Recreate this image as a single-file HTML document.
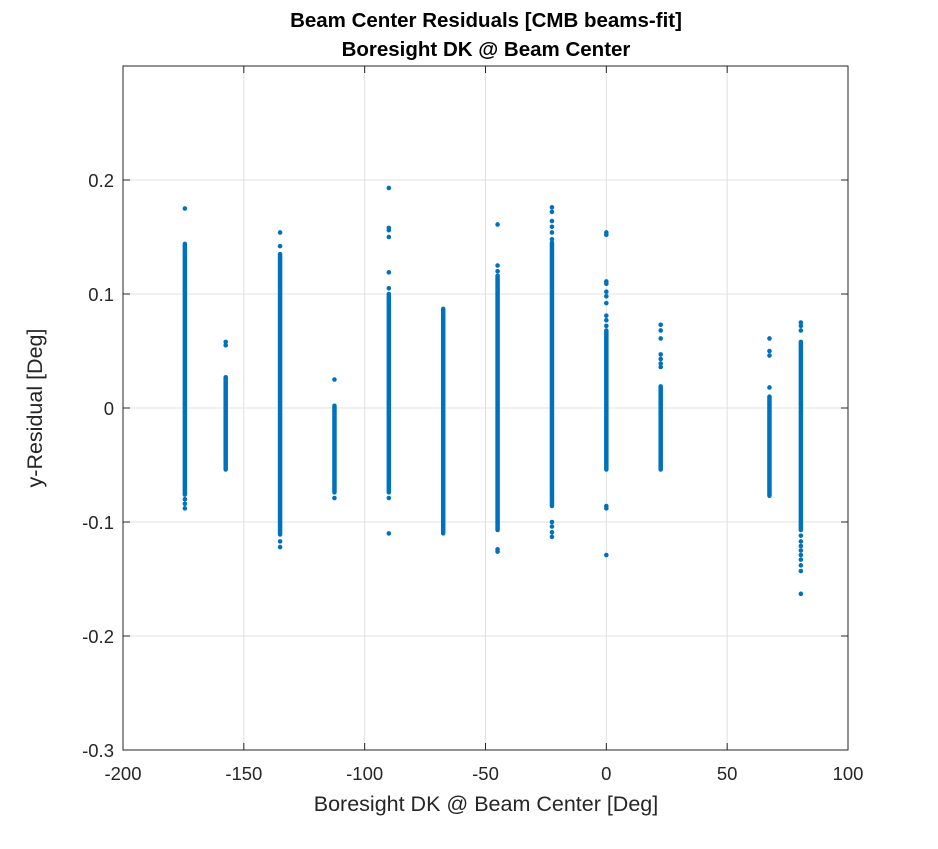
<!DOCTYPE html>
<html><head><meta charset="utf-8"><style>
body{margin:0;background:#fff;}
svg text{font-family:"Liberation Sans",Arial,sans-serif;fill:#262626;}
</style></head><body>
<svg id="chart" width="938" height="844" xmlns="http://www.w3.org/2000/svg">
<rect width="938" height="844" fill="#fff"/>
<g id="grid"></g>
<g id="marks"></g>
<rect x="123" y="66" width="725" height="684" fill="none" stroke="#262626" stroke-width="1"/>
<g id="ticks"></g>
<text x="486" y="27" text-anchor="middle" font-size="20.5" font-weight="bold" style="fill:#000">Beam Center Residuals [CMB beams-fit]</text>
<text x="486" y="56" text-anchor="middle" font-size="20.5" font-weight="bold" style="fill:#000">Boresight DK @ Beam Center</text>
<text x="486" y="811" text-anchor="middle" font-size="21.5">Boresight DK @ Beam Center [Deg]</text>
<text transform="translate(42,408) rotate(-90)" text-anchor="middle" font-size="21.5">y-Residual [Deg]</text>
</svg>
<script>
const dkValues=[-174.4,-157.5,-135,-112.5,-90,-67.5,-45,-22.5,0,22.5,67.5,80.5];
const denseLow=[-0.076,-0.054,-0.111,-0.074,-0.074,-0.110,-0.107,-0.086,-0.054,-0.054,-0.077,-0.107];
const denseHigh=[0.144,0.027,0.135,0.002,0.100,0.087,0.116,0.145,0.068,0.019,0.010,0.058];
const outliers=[
 [0.175,-0.080,-0.084,-0.088],
 [0.058,0.055],
 [0.154,0.142,-0.117,-0.122],
 [0.025,-0.079],
 [0.193,0.158,0.156,0.150,0.119,0.105,-0.079,-0.110],
 [],
 [0.161,0.125,0.120,-0.124,-0.126],
 [0.176,0.172,0.164,0.159,0.154,0.148,-0.100,-0.104,-0.109,-0.113],
 [0.154,0.152,0.111,0.109,0.102,0.098,0.092,0.081,0.077,0.072,-0.086,-0.088,-0.129],
 [0.073,0.068,0.061,0.047,0.043,0.039,0.036],
 [0.061,0.050,0.046,0.018],
 [0.075,0.072,0.068,-0.112,-0.117,-0.121,-0.125,-0.129,-0.133,-0.138,-0.143,-0.163]
];
const xTicks=[-200,-150,-100,-50,0,50,100];
const yTicks=[-0.3,-0.2,-0.1,0,0.1,0.2];
const X0=123,X1=848,Y0=750,Y1=66;
const xs=v=>X0+(v+200)/300*(X1-X0);
const ys=v=>Y0-(v+0.3)/0.6*(Y0-Y1);
const NS="http://www.w3.org/2000/svg";
const grid=document.getElementById('grid'),marks=document.getElementById('marks'),ticks=document.getElementById('ticks');
function mk(tag,attrs,parent){const e=document.createElementNS(NS,tag);for(const k in attrs)e.setAttribute(k,attrs[k]);parent.appendChild(e);return e;}
xTicks.forEach(t=>{
 const x=xs(t);
 const g=mk('line',{x1:x,x2:x,y1:Y1,y2:Y0,stroke:'#e0e0e0','stroke-width':1},grid);
 
 
 mk('line',{x1:x,x2:x,y1:Y0,y2:Y0-7,stroke:'#262626'},ticks);
 mk('line',{x1:x,x2:x,y1:Y1,y2:Y1+7,stroke:'#262626'},ticks);
 const tx=mk('text',{x:x,y:Y0+30,'text-anchor':'middle','font-size':18.5},ticks);
 tx.textContent=t;
 
 
});
yTicks.forEach(t=>{
 const y=ys(t);
 const g=mk('line',{x1:X0,x2:X1,y1:y,y2:y,stroke:'#e0e0e0','stroke-width':1},grid);
 
 
 mk('line',{x1:X0,x2:X0+7,y1:y,y2:y,stroke:'#262626'},ticks);
 mk('line',{x1:X1,x2:X1-7,y1:y,y2:y,stroke:'#262626'},ticks);
 const tx=mk('text',{x:X0-9,y:y+7,'text-anchor':'end','font-size':18.5},ticks);
 tx.textContent=(Math.round(t*10)/10).toString();
 
 
});
dkValues.forEach((dk,i)=>{
 const x=xs(dk);
 const l=mk('line',{x1:x,x2:x,y1:ys(denseLow[i]),y2:ys(denseHigh[i]),stroke:'#0072BD','stroke-width':4.5,'stroke-linecap':'round'},marks);
 
 
 outliers[i].forEach(v=>{
  const c=mk('circle',{cx:x,cy:ys(v),r:2.3,fill:'#0072BD'},marks);
  
  
 });
});
</script>
</body></html>
